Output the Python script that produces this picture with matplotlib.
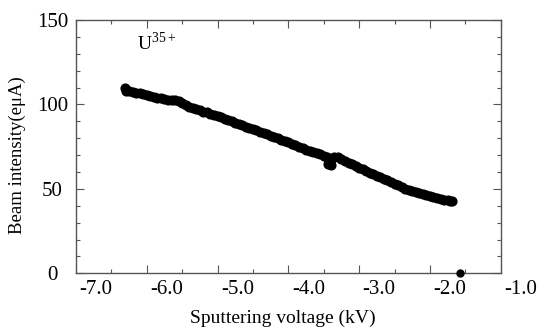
import numpy as np
import matplotlib
matplotlib.use("Agg")
import matplotlib.pyplot as plt
import matplotlib.transforms as mtransforms
from matplotlib.ticker import MultipleLocator

plt.rcParams['font.family'] = ['Liberation Serif', 'DejaVu Serif']
plt.rcParams['mathtext.fontset'] = 'custom'
plt.rcParams['mathtext.rm'] = 'Liberation Serif'

# sputtering voltage (kV) vs U35+ beam intensity (euA)
voltage = [-6.31, -6.29, -6.25, -6.20, -6.15, -6.10, -6.05, -6.00, -5.95, -5.90,
           -5.85, -5.80, -5.75, -5.70, -5.65, -5.60, -5.55, -5.50, -5.45, -5.40,
           -5.35, -5.30, -5.25, -5.20, -5.15, -5.10, -5.05, -5.00, -4.95, -4.90,
           -4.85, -4.80, -4.75, -4.70, -4.65, -4.60, -4.55, -4.50, -4.45, -4.40,
           -4.35, -4.30, -4.25, -4.20, -4.15, -4.10, -4.05, -4.00, -3.95, -3.90,
           -3.85, -3.80, -3.75, -3.70, -3.65, -3.60, -3.55, -3.50, -3.45, -3.44,
           -3.40, -3.35, -3.30, -3.25, -3.20, -3.15, -3.10, -3.05, -3.00, -2.95,
           -2.90, -2.85, -2.80, -2.75, -2.70, -2.65, -2.60, -2.55, -2.50, -2.45,
           -2.40, -2.35, -2.30, -2.25, -2.20, -2.15, -2.10, -2.05, -2.00, -1.95,
           -1.90, -1.85, -1.80, -1.75, -1.72, -1.69]
intensity = [109.5, 108.2, 108.0, 107.6, 107.0, 106.8, 106.0, 105.6, 105.0, 104.3,
             104.0, 103.6, 103.3, 102.8, 102.5, 102.4, 101.8, 100.6, 99.5, 98.6,
             97.8, 97.0, 96.5, 95.8, 95.3, 94.6, 93.9, 93.2, 92.4, 91.6,
             90.9, 90.0, 89.2, 88.5, 87.6, 86.8, 86.0, 85.4, 84.6, 83.8,
             82.9, 82.2, 81.4, 80.6, 79.9, 79.0, 78.3, 77.6, 76.6, 75.8,
             74.9, 74.2, 73.2, 72.6, 71.9, 71.3, 70.5, 69.6, 68.6, 64.5,
             64.3, 69.0, 68.6, 67.6, 66.6, 65.5, 64.5, 63.4, 62.6, 61.5,
             60.6, 59.6, 58.6, 57.7, 56.8, 55.8, 55.0, 54.0, 53.0, 52.0,
             51.1, 50.2, 49.5, 48.7, 48.0, 47.4, 46.8, 46.3, 45.6, 45.1,
             44.6, 44.1, 43.6, 43.2, 42.9, 42.8]
stray_v = [-1.575]
stray_i = [0.0]

xticks = [-7.0, -6.0, -5.0, -4.0, -3.0, -2.0, -1.0]
xlabels = ['-7.0', '-6.0', '-5.0', '-4.0', '-3.0', '-2.0', '-1.0']
yticks = [0, 50, 100, 150]

fig = plt.figure(figsize=(5.44, 3.31), dpi=100)
ax = fig.add_axes([0.1397, 0.1743, 0.7807, 0.7653])

ax.plot(voltage, intensity, '-', color='black', lw=5, solid_capstyle='round')
ax.plot(voltage, intensity, 'o', color='black', ms=6.3)
ax.plot(stray_v, stray_i, 'o', color='black', ms=5, clip_on=False, zorder=5)

ax.set_xlim(-7.0, -1.0)
ax.set_ylim(0, 150)
ax.set_xticks(xticks)
ax.set_xticklabels(xlabels)
ax.xaxis.set_minor_locator(MultipleLocator(0.5))
ax.set_yticks(yticks)
ax.yaxis.set_minor_locator(MultipleLocator(10))

edge = '#555555'
for s in ax.spines.values():
    s.set_color(edge)
    s.set_linewidth(1.0)
ax.tick_params(which='both', direction='in', top=True, right=True, color=edge, width=0.8)
ax.tick_params(which='major', length=6)
ax.tick_params(which='minor', length=3)
ax.tick_params(axis='x', which='major', labelsize=15, pad=5)
ax.tick_params(axis='y', which='major', labelsize=15, pad=17)

for lab in ax.get_yticklabels():
    lab.set_horizontalalignment('center')

# the x tick labels sit about 20 px right of their ticks in the original
shift = mtransforms.ScaledTranslation(0.20, 0, fig.dpi_scale_trans)
for lab in ax.get_xticklabels():
    lab.set_transform(lab.get_transform() + shift)

ax.set_xlabel('Sputtering voltage (kV)', fontsize=14)
ax.xaxis.set_label_coords(0.487, -0.145)
ax.set_ylabel('Beam intensity(e\u03bcA)', fontsize=13.5)
ax.yaxis.set_label_coords(-0.118, 0.467)

ax.text(-6.14, 132.2, r'U$^{\mathrm{35+}}$', fontsize=14, ha='left', va='baseline')

fig.savefig('out.png', dpi=100)
